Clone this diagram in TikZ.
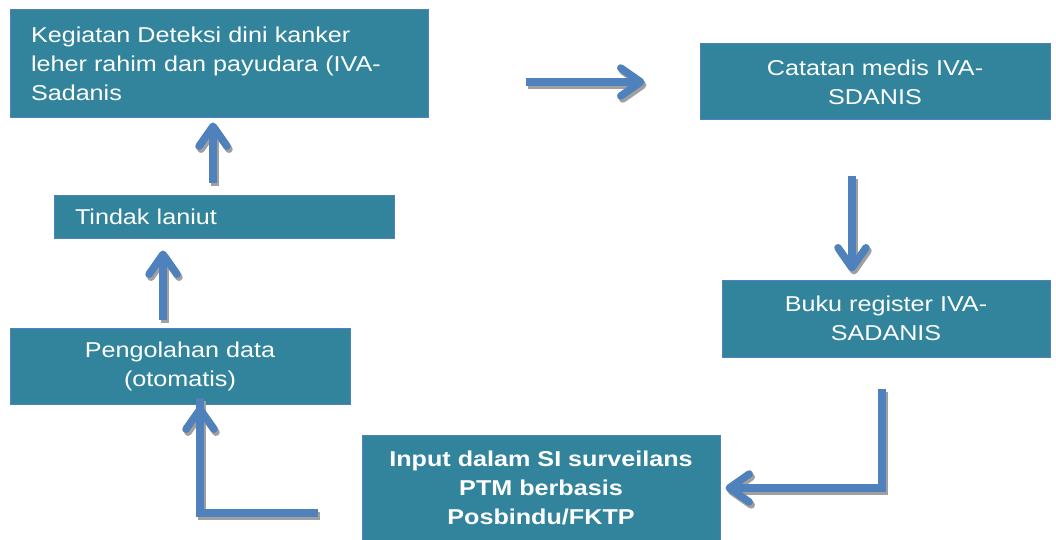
\documentclass[tikz,border=0pt]{standalone}
\usepackage{fontspec}
\setmainfont[FakeStretch=1.17]{Liberation Sans}
\usetikzlibrary{arrows.meta,calc}
\definecolor{boxfill}{HTML}{31849B}
\definecolor{boxline}{HTML}{4F81BD}
\definecolor{arrowc}{HTML}{4F81BD}
\definecolor{shadowc}{HTML}{A0A0A0}
\newcommand\drawconnectors[1]{%
  \draw[flow, #1, shorten <=97pt, shorten >=55pt] (b1.east |- b2.west) -- (b2.west);
  \draw[flow, #1, shorten <=55pt, shorten >=8pt] ([xshift=-23pt]b2.south) -- ([xshift=-23pt]b2.south |- b3.north);
  \draw[flow, #1, shorten <=31pt, shorten >=5pt] ([xshift=-4pt]b3.south) |- (b4.east);
  \draw[flowline, #1, shorten <=44pt] ([yshift=-25pt]b4.west) -| ([xshift=20pt]b5.south);
  \draw[flow, #1, shorten <=90pt, shorten >=1pt] ([xshift=20pt]b5.south |- b4.west) -- ([xshift=20pt]b5.south);
  \draw[flow, #1, shorten <=8pt, shorten >=12pt] ([xshift=-17pt]b5.north) -- ([xshift=-17pt]b5.north |- b6.south);
  \draw[flow, #1, shorten <=12pt, shorten >=4pt] ([xshift=-11pt]b6.north) -- ([xshift=-11pt]b6.north |- b1.south);
}
\begin{document}
\begin{tikzpicture}[x=1pt,y=-1pt,
  box/.style={draw=boxline, fill=boxfill, line width=1pt, text=white,
    font=\fontsize{21.5}{29}\selectfont, inner sep=0pt, align=center},
  flow/.style={draw=arrowc, line width=7.5pt,
    -{Straight Barb[length=20pt,width=28pt,round]}},
  flowline/.style={draw=arrowc, line width=7.5pt},
  shade/.style={draw=shadowc}
]
\useasboundingbox (0,0) rectangle (1056,540);
\fill[white] (0,0) rectangle (1056,540);

\node[box, minimum width=418pt, minimum height=108pt, text width=376pt, align=left] (b1) at (219,64)
  {Kegiatan Deteksi dini kanker\\leher rahim dan payudara (IVA-\\Sadanis};
\node[box, minimum width=350pt, minimum height=76pt] (b2) at (875,82)
  {Catatan medis IVA-\\SDANIS};
\node[box, minimum width=328pt, minimum height=77pt] (b3) at (886,318.5)
  {Buku register IVA-\\SADANIS};
\node[box, minimum width=358pt, minimum height=106pt, font=\bfseries\fontsize{21.5}{29}\selectfont] (b4) at (541,488)
  {Input dalam SI surveilans\\PTM berbasis\\Posbindu/FKTP};
\node[box, minimum width=340pt, minimum height=76pt] (b5) at (180,366)
  {Pengolahan data\\(otomatis)};
\node[box, minimum width=340pt, minimum height=43pt, text width=298pt, align=left] (b6) at (224,216.5)
  {Tindak laniut};

% connectors: drop shadow, then the arrows
\begin{scope}[transform canvas={shift={(2pt,-3pt)}}]
  \drawconnectors{shade}
\end{scope}
\drawconnectors{}
\end{tikzpicture}
\end{document}
